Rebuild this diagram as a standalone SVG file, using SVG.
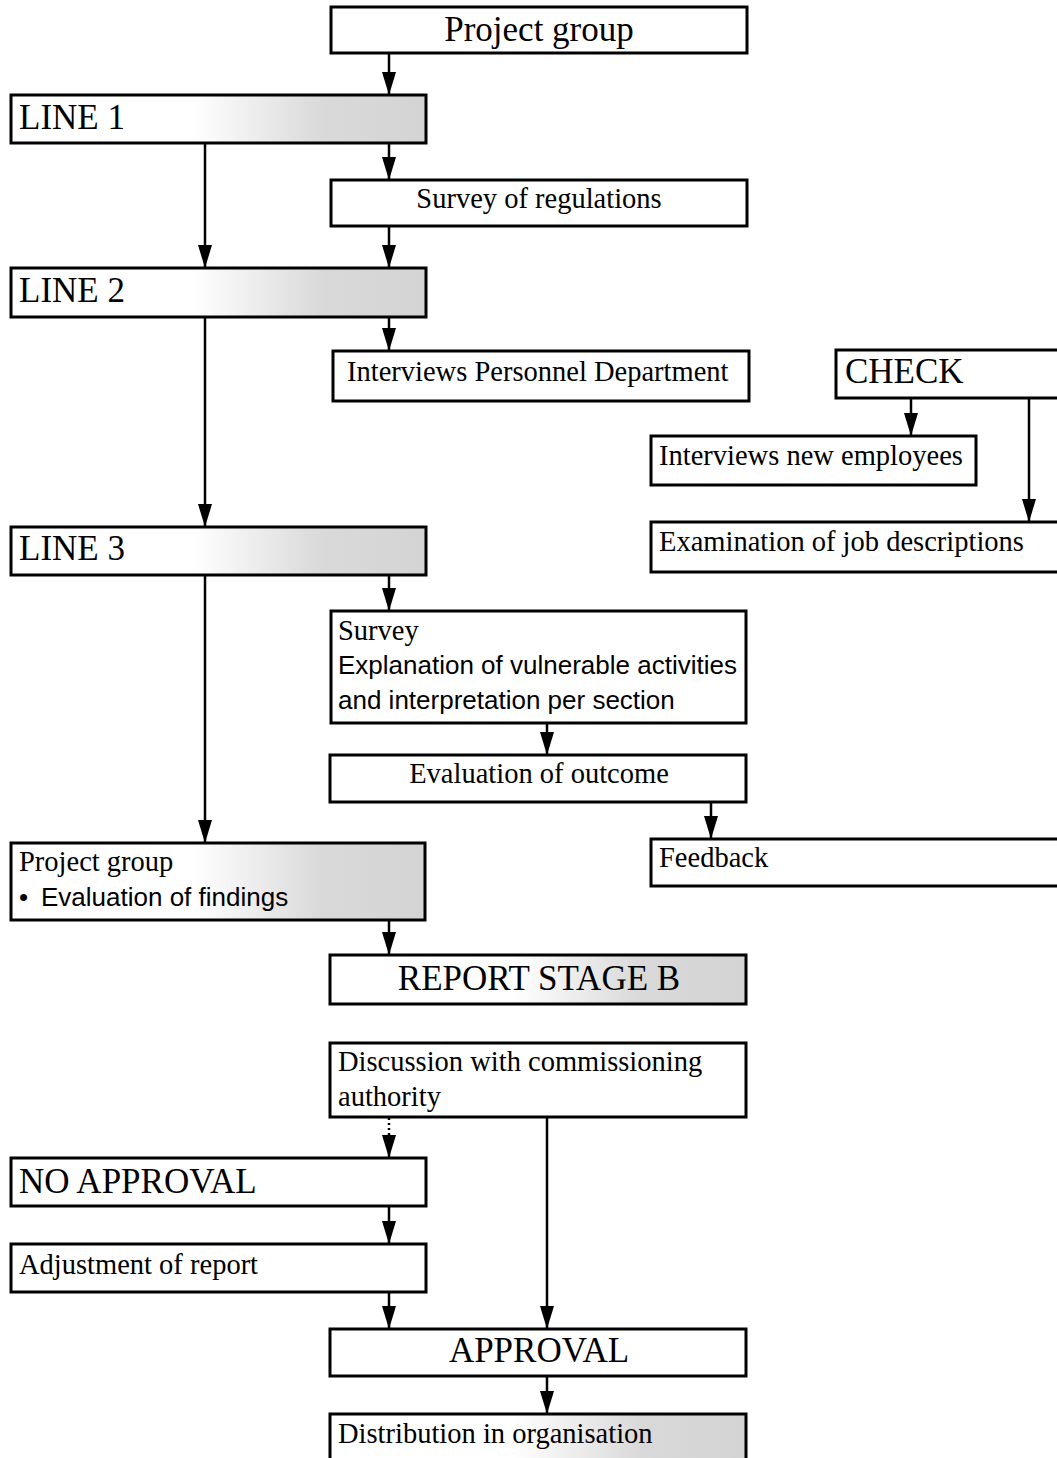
<svg xmlns="http://www.w3.org/2000/svg" width="1057" height="1458" viewBox="0 0 1057 1458">
  <style>
    .box { fill: #fff; stroke: #000; stroke-width: 3; }
    .shade { fill: url(#shade); stroke: #000; stroke-width: 3; }
    .serif { font-family: "Liberation Serif", "Times New Roman", serif; fill: #000; }
    .sans { font-family: "Liberation Sans", Arial, sans-serif; fill: #000; }
    .big { font-size: 35px; }
    .mid { font-size: 28.5px; }
    .mid-sans { font-size: 26px; }
    .c { text-anchor: middle; }
    .wire { stroke: #000; stroke-width: 2.5; fill: none; marker-end: url(#arrow); }
    .dot { stroke: #000; stroke-width: 2.5; fill: none; stroke-dasharray: 2 3; }
  </style>
  <defs>
    <linearGradient id="shade" x1="0" y1="0" x2="1" y2="0">
      <stop offset="0" stop-color="#ffffff"/>
      <stop offset="0.44" stop-color="#ffffff"/>
      <stop offset="0.75" stop-color="#d9d9d9"/>
      <stop offset="1" stop-color="#d4d4d4"/>
    </linearGradient>
    <!-- filled arrowhead pointing along the path direction -->
    <marker id="arrow" markerUnits="userSpaceOnUse" markerWidth="23" markerHeight="14" viewBox="0 0 23 14" refX="23" refY="7" orient="auto">
      <path d="M0,0 L23,7 L0,14 Z" fill="#000"/>
    </marker>
  </defs>

  <rect width="1057" height="1458" fill="#fff"/>

  <!-- connectors -->
  <g id="connectors">
    <path class="wire" d="M389,53 V95"/>
    <path class="wire" d="M389,143 V180"/>
    <path class="wire" d="M389,226 V268"/>
    <path class="wire" d="M205,143 V268"/>
    <path class="wire" d="M389,317 V351"/>
    <path class="wire" d="M205,317 V527"/>
    <path class="wire" d="M911,398 V436"/>
    <path class="wire" d="M1029,398 V522"/>
    <path class="wire" d="M389,575 V611"/>
    <path class="wire" d="M205,575 V843"/>
    <path class="wire" d="M547,723 V755"/>
    <path class="wire" d="M711,802 V839"/>
    <path class="wire" d="M389,920 V955"/>
    <path class="dot" d="M389,1118 V1134"/>
    <path class="wire" d="M389,1134 V1158"/>
    <path class="wire" d="M389,1206 V1244"/>
    <path class="wire" d="M389,1292 V1329"/>
    <path class="wire" d="M547,1117 V1329"/>
    <path class="wire" d="M547,1376 V1414"/>
  </g>

  <g id="project-group">
    <rect class="box" x="331" y="7" width="416" height="46"/>
    <text class="serif big c" x="539" y="41">Project group</text>
  </g>

  <g id="line-1">
    <rect class="shade" x="11" y="95" width="415" height="48"/>
    <text class="serif big" x="19" y="129">LINE 1</text>
  </g>

  <g id="survey-regulations">
    <rect class="box" x="331" y="180" width="416" height="46"/>
    <text class="serif mid c" x="539" y="208">Survey of regulations</text>
  </g>

  <g id="line-2">
    <rect class="shade" x="11" y="268" width="415" height="49"/>
    <text class="serif big" x="19" y="302">LINE 2</text>
  </g>

  <g id="interviews-personnel">
    <rect class="box" x="333" y="351" width="416" height="50"/>
    <text class="serif mid" x="347" y="381">Interviews Personnel Department</text>
  </g>

  <g id="check">
    <rect class="box" x="836" y="350" width="240" height="48"/>
    <text class="serif big" x="845" y="383">CHECK</text>
  </g>

  <g id="interviews-new">
    <rect class="box" x="651" y="436" width="325" height="49"/>
    <text class="serif mid" x="659" y="465">Interviews new employees</text>
  </g>

  <g id="job-descriptions">
    <rect class="box" x="651" y="522" width="425" height="50"/>
    <text class="serif mid" x="659" y="551">Examination of job descriptions</text>
  </g>

  <g id="line-3">
    <rect class="shade" x="11" y="527" width="415" height="48"/>
    <text class="serif big" x="19" y="560">LINE 3</text>
  </g>

  <g id="survey">
    <rect class="box" x="331" y="611" width="415" height="112"/>
    <text class="serif mid" x="338" y="640">Survey</text>
    <text class="sans mid-sans" x="338" y="674">Explanation of vulnerable activities</text>
    <text class="sans mid-sans" x="338" y="709">and interpretation per section</text>
  </g>

  <g id="evaluation-outcome">
    <rect class="box" x="330" y="755" width="416" height="47"/>
    <text class="serif mid c" x="539" y="783">Evaluation of outcome</text>
  </g>

  <g id="feedback">
    <rect class="box" x="651" y="839" width="425" height="47"/>
    <text class="serif mid" x="659" y="867">Feedback</text>
  </g>

  <g id="project-group-findings">
    <rect class="shade" x="11" y="843" width="414" height="77"/>
    <text class="serif mid" x="19" y="871">Project group</text>
    <text class="sans mid-sans" x="19" y="906">•<tspan x="41">Evaluation of findings</tspan></text>
  </g>

  <g id="report-stage-b">
    <rect class="shade" x="330" y="955" width="416" height="49"/>
    <text class="serif big c" x="539" y="990">REPORT STAGE B</text>
  </g>

  <g id="discussion">
    <rect class="box" x="330" y="1043" width="416" height="74"/>
    <text class="serif mid" x="338" y="1071">Discussion with commissioning</text>
    <text class="serif mid" x="338" y="1106">authority</text>
  </g>

  <g id="no-approval">
    <rect class="box" x="11" y="1158" width="415" height="48"/>
    <text class="serif big" x="19" y="1193">NO APPROVAL</text>
  </g>

  <g id="adjustment">
    <rect class="box" x="11" y="1244" width="415" height="48"/>
    <text class="serif mid" x="19" y="1274">Adjustment of report</text>
  </g>

  <g id="approval">
    <rect class="box" x="330" y="1329" width="416" height="47"/>
    <text class="serif big c" x="539" y="1362">APPROVAL</text>
  </g>

  <g id="distribution">
    <rect class="shade" x="330" y="1414" width="416" height="60"/>
    <text class="serif mid" x="338" y="1443">Distribution in organisation</text>
  </g>
</svg>
